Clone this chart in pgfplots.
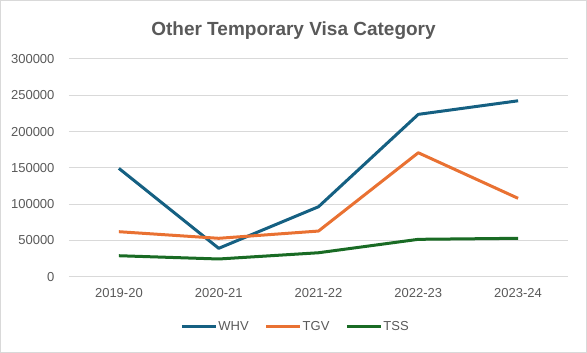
\documentclass[border=0pt]{standalone}
\usepackage{pgfplots}
\pgfplotsset{compat=1.18}
\usepackage{fontspec}
\setmainfont{Liberation Sans}
\definecolor{whv}{HTML}{156082}
\definecolor{tgv}{HTML}{E97132}
\definecolor{tss}{HTML}{196B24}
\definecolor{txt}{HTML}{595959}
\definecolor{gridc}{HTML}{D9D9D9}
\begin{document}
\begin{tikzpicture}[x=1pt,y=1pt]
\draw[color=gridc, line width=1pt] (0.5,0.5) rectangle (586.5,352.5);
\node[text=txt, font=\fontsize{19}{22}\selectfont\bfseries] at (293.5,322) {Other Temporary Visa Category};
\begin{axis}[
  at={(69pt,76.3pt)}, anchor=south west, scale only axis,
  width=499pt, height=217.7pt,
  xmin=-0.5, xmax=4.5, ymin=0, ymax=300000,
  xtick={0,1,2,3,4},
  xticklabels={2019-20,2020-21,2021-22,2022-23,2023-24},
  ytick={0,50000,100000,150000,200000,250000,300000},
  scaled y ticks=false,
  /pgf/number format/assume math mode=true,
  yticklabel style={/pgf/number format/fixed, /pgf/number format/1000 sep={}, anchor=east, xshift=-11pt},
  xticklabel style={yshift=-8pt},
  ticklabel style={font=\fontsize{13}{15}\selectfont, text=txt},
  axis line style={draw=none},
  major tick style={draw=none},
  ymajorgrids, grid style={color=gridc, line width=1pt},
  legend style={at={(0.453,-0.231)}, anchor=center, legend columns=3, draw=none, fill=none,
    font=\fontsize{13}{15}\selectfont, text=txt,
    nodes={inner xsep=1pt},
    /tikz/every even column/.append style={column sep=15pt}},
  legend cell align=left,
  legend image code/.code={\draw[#1] (0pt,0pt) -- (34pt,0pt);},
  every axis plot/.append style={line width=3pt, line join=round},
]
\addplot[color=whv, mark=none] coordinates {(0,149300) (1,39100) (2,96400) (3,223700) (4,242400)};
\addlegendentry{WHV}
\addplot[color=tgv, mark=none] coordinates {(0,62000) (1,52900) (2,62900) (3,170800) (4,108000)};
\addlegendentry{TGV}
\addplot[color=tss, mark=none] coordinates {(0,28900) (1,24400) (2,33000) (3,51500) (4,52900)};
\addlegendentry{TSS}
\end{axis}
\end{tikzpicture}
\end{document}
